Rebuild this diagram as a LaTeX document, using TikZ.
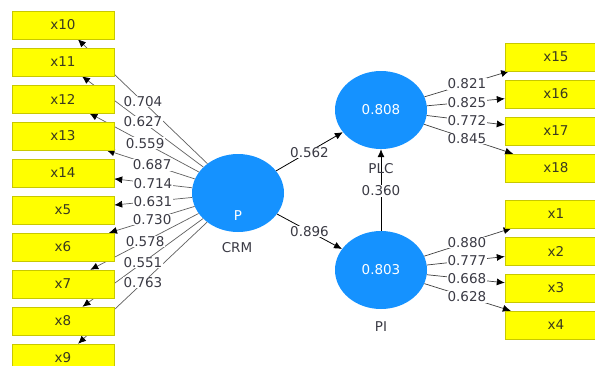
\documentclass[tikz,border=0pt]{standalone}
\usepackage{fontspec}
\setmainfont{DejaVu Sans}
\usetikzlibrary{calc,arrows.meta,shapes.geometric}
\definecolor{boxfill}{HTML}{FFFF00}
\definecolor{boxline}{HTML}{C8C800}
\definecolor{lvblue}{HTML}{1592FF}
\definecolor{txt}{HTML}{3A3A44}
\definecolor{boxtxt}{HTML}{3A3A20}
\definecolor{loadline}{HTML}{606060}
\begin{document}
\begin{tikzpicture}[x=1pt,y=-1pt,
  ind/.style={draw=boxline, fill=boxfill, minimum width=102pt, minimum height=28pt, inner sep=0pt, font=\fontsize{13.5}{15}\selectfont, text=boxtxt},
  lv/.style={ellipse, fill=lvblue, minimum width=92pt, minimum height=78pt, inner sep=0pt, text=white, font=\fontsize{13.5}{15}\selectfont},
  coef/.style={fill=white, inner sep=0.6pt, font=\fontsize{13.5}{15}\selectfont, text=txt},
  lvname/.style={inner sep=0pt, font=\fontsize{13.5}{15}\selectfont, text=txt},
  load/.style={draw=loadline, line width=0.7pt, -{Latex[length=8pt,width=7pt,color=black]}},
  rload/.style={draw=black!75, line width=0.7pt, -{Latex[length=8pt,width=7pt,color=black]}},
  struct/.style={draw=black, line width=0.8pt, -{Latex[length=8pt,width=7pt]}}]
\useasboundingbox (0,0) rectangle (595,365);
\clip (0,0) rectangle (595,365);
\fill[white] (0,0) rectangle (595,365);

% latent variables
\node[lv] (crm) at (238,193) {};
\node[lv] (plc) at (381,110) {0.808};
\node[lv] (pi) at (381,270) {0.803};
\node[text=white, inner sep=0pt, font=\fontsize{13.5}{15}\selectfont] (pmark) at (238,216) {P};

% indicator positions
\foreach \n/\y in {x10/25, x11/62, x12/99, x13/136, x14/173, x5/210, x6/247, x7/284, x8/321, x9/358}
  \coordinate (c\n) at (63,\y);
\foreach \n/\y in {x15/57, x16/94, x17/131, x18/168, x1/214, x2/251, x3/288, x4/325}
  \coordinate (c\n) at (556,\y);

% invisible box outlines used as connector targets
\foreach \n in {x10,x11,x12,x13,x14,x5,x6,x7,x8,x9,x15,x16,x17,x18,x1,x2,x3,x4}
  \node[ind, draw=none, fill=none] (\n) at (c\n) {};

% loadings (left)
\foreach \n in {x10,x11,x12,x13,x14,x5,x6,x7,x8,x9}
  \draw[load] (crm) -- (\n);
% loadings (right)
\foreach \n in {x15,x16,x17,x18}
  \draw[rload] (plc) -- (\n);
\foreach \n in {x1,x2,x3,x4}
  \draw[rload] (pi) -- (\n);

% structural paths
\draw[struct] (crm) -- (plc);
\draw[struct] (crm) -- (pi);
\draw[struct] (pi) -- (plc);

% boxes on top
\foreach \n in {x10,x11,x12,x13,x14,x5,x6,x7,x8,x9,x15,x16,x17,x18,x1,x2,x3,x4}
  \node[ind] (b\n) at (c\n) {\n};

% loading labels left
\foreach \n/\t/\v in {x10/0.543/0.704, x11/0.543/0.627, x12/0.531/0.559, x13/0.491/0.687, x14/0.486/0.714, x5/0.486/0.631, x6/0.491/0.730, x7/0.531/0.578, x8/0.543/0.551, x9/0.543/0.763}
  \node[coef] (l\n) at ($(crm)!\t!(c\n)$) {\v};
% loading labels right
\foreach \n/\v in {x15/0.821, x16/0.825, x17/0.772, x18/0.845}
  \node[coef] (l\n) at ($(plc)!0.491!(c\n)$) {\v};
\foreach \n/\v in {x1/0.880, x2/0.777, x3/0.668, x4/0.628}
  \node[coef] (l\n) at ($(pi)!0.491!(c\n)$) {\v};

% path labels
\node[coef] (lcp) at ($(crm)!0.5!(plc)+(0,1)$) {0.562};
\node[coef] (lci) at ($(crm)!0.5!(pi)$) {0.896};
\node[coef] (lpp) at ($(pi)!0.494!(plc)$) {0.360};

% latent names
\node[lvname] (ncrm) at (237,248) {CRM};
\node[lvname] (nplc) at (381,169) {PLC};
\node[lvname] (npi) at (381,327) {PI};
\end{tikzpicture}
\end{document}
